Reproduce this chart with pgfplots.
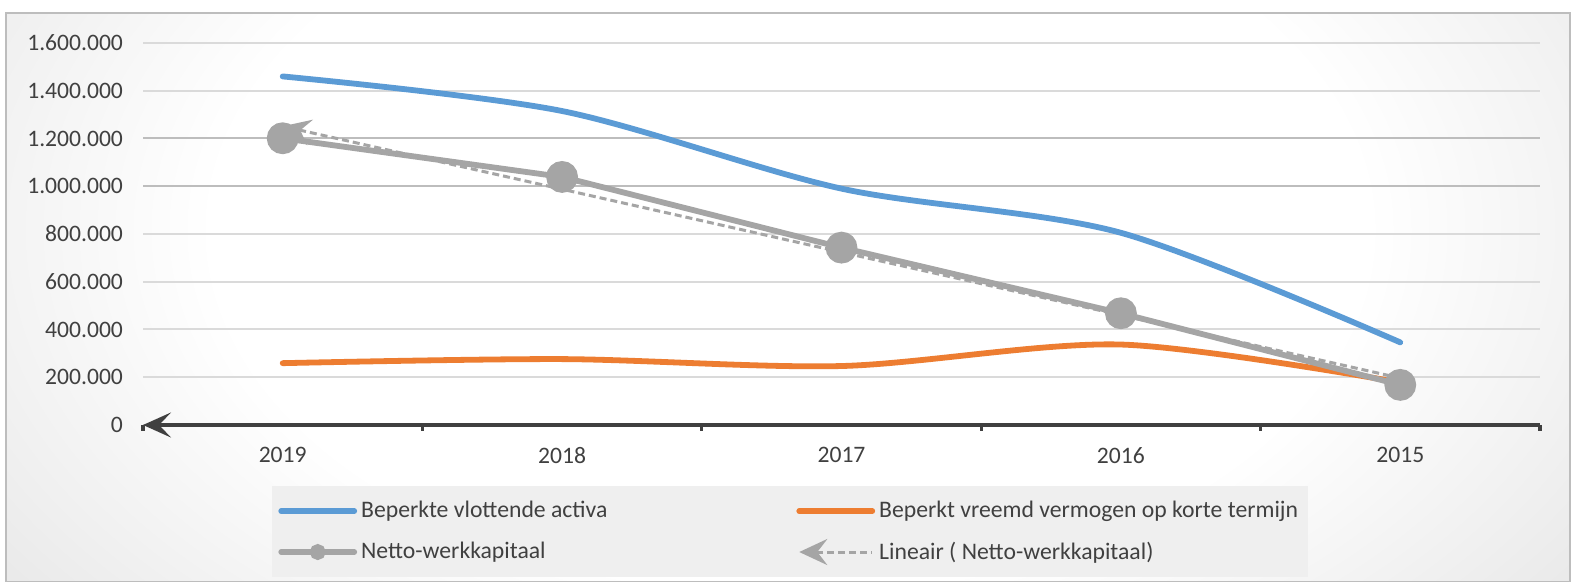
\documentclass[border=0pt]{standalone}
\usepackage{pgfplots}
\pgfplotsset{compat=1.18}
\usepackage{fontspec}
\setmainfont{Carlito}
\usetikzlibrary{arrows.meta}

\definecolor{xlblue}{HTML}{5B9BD5}
\definecolor{xlorange}{HTML}{ED7D31}
\definecolor{xlgray}{HTML}{A5A5A5}
\definecolor{txtgray}{HTML}{404040}
\definecolor{gridA}{HTML}{A6A6A6}
\definecolor{gridB}{HTML}{BDBDBD}
\definecolor{gridC}{HTML}{DADADA}
\definecolor{bgedge}{HTML}{C6C6C6}
\definecolor{bgcorner}{HTML}{BBBBBB}
\definecolor{legfill}{HTML}{EFEFEF}

\pgfdeclareradialshading{chartbg}{\pgfpoint{0bp}{0bp}}{color(0bp)=(white); color(18bp)=(white); color(50bp)=(bgedge); color(75bp)=(bgcorner)}

\pgfplotsset{
    netto legend/.style={legend image code/.code={\draw[##1, mark size=2.5pt, mark repeat=2, mark phase=2] plot coordinates {(0pt,0pt) (18.25pt,0pt) (36.5pt,0pt)};}},
}

\begin{document}
\begin{tikzpicture}
\useasboundingbox (0pt,0pt) rectangle (786pt,291pt);
% chart area background
\begin{scope}
  \clip (3pt,0pt) rectangle (785pt,284.5pt);
  \shade[shading=chartbg] (-5pt,-74pt) rectangle (795pt,426pt);
\end{scope}
\draw[gridB, line width=1pt] (3pt,0pt) rectangle (785pt,284.5pt);

\begin{axis}[
    at={(71.5pt,78.5pt)}, anchor=south west,
    scale only axis, width=698.5pt, height=191pt,
    xmin=-0.5, xmax=4.5, ymin=0, ymax=1600000,
    axis x line*=bottom, axis y line*=left,
    y axis line style={draw=none},
    x axis line style={txtgray, line width=1.6pt, {Stealth[length=14pt,width=12.5pt,inset=6pt]}-},
    xtick={-0.5,0.5,...,4.5},
    x tick label as interval,
    xticklabels={2019,2018,2017,2016,2015},
    xtick style={txtgray, line width=1.6pt},
    xticklabel style={yshift=-4.5pt},
    tick align=outside,
    major tick length=3pt,
    ytick={0,200000,...,1600000},
    yticklabels={0,200.000,400.000,600.000,800.000,1.000.000,1.200.000,1.400.000,1.600.000},
    yticklabel style={xshift=-3.5pt},
    ytick style={draw=none},
    scaled y ticks=false,
    ymajorgrids, major grid style={gridC, line width=1pt},
    minor ytick={200000,400000,600000,800000},
    yminorgrids, minor grid style={gridA, line width=1pt}, minor tick length=0pt,
    extra y ticks={1000000,1200000},
    extra y tick labels={},
    extra y tick style={major grid style={gridB, line width=1pt}},
    tick label style={font=\fontsize{11.8}{14}\selectfont, text=txtgray},
    legend columns=2,
    legend cell align=left,
    legend style={at={(0.0923,-0.1597)}, anchor=north west, draw=none, fill=legfill,
        font=\fontsize{11.85}{14}\selectfont, text=txtgray,
        inner xsep=3pt, inner ysep=5.5pt, /tikz/row sep=6.5pt,
        /tikz/every even column/.append style={column sep=92.5pt}},
    legend image code/.code={\draw[#1, mark repeat=2, mark phase=2] plot coordinates {(0pt,0pt) (18.25pt,0pt) (36.5pt,0pt)};},
]
\addplot[xlblue, line width=2.9pt, line cap=round, smooth] coordinates {
    (0,1460000) (1,1315000) (2,990000) (3,805000) (4,346000)
};
\addlegendentry{Beperkte vlottende activa}
\addplot[xlorange, line width=2.9pt, line cap=round, smooth] coordinates {
    (0,259000) (1,276000) (2,247000) (3,337000) (4,178000)
};
\addlegendentry{Beperkt vreemd vermogen op korte termijn}
\addplot[xlgray, line width=2.9pt, line cap=round, mark=*, mark size=6.5pt,
    mark options={solid, draw=xlgray, fill=xlgray}, netto legend] coordinates {
    (0,1201000) (1,1039000) (2,743000) (3,468000) (4,168000)
};
\addlegendentry{Netto-werkkapitaal}
\addplot[xlgray, line width=1.5pt, dash pattern=on 3.5pt off 2pt, {Stealth[length=14pt,width=13pt,inset=5pt]}-] coordinates {
    (0,1251200) (4,196400)
};
\addlegendentry{Lineair ( Netto-werkkapitaal)}
\end{axis}
\end{tikzpicture}
\end{document}
